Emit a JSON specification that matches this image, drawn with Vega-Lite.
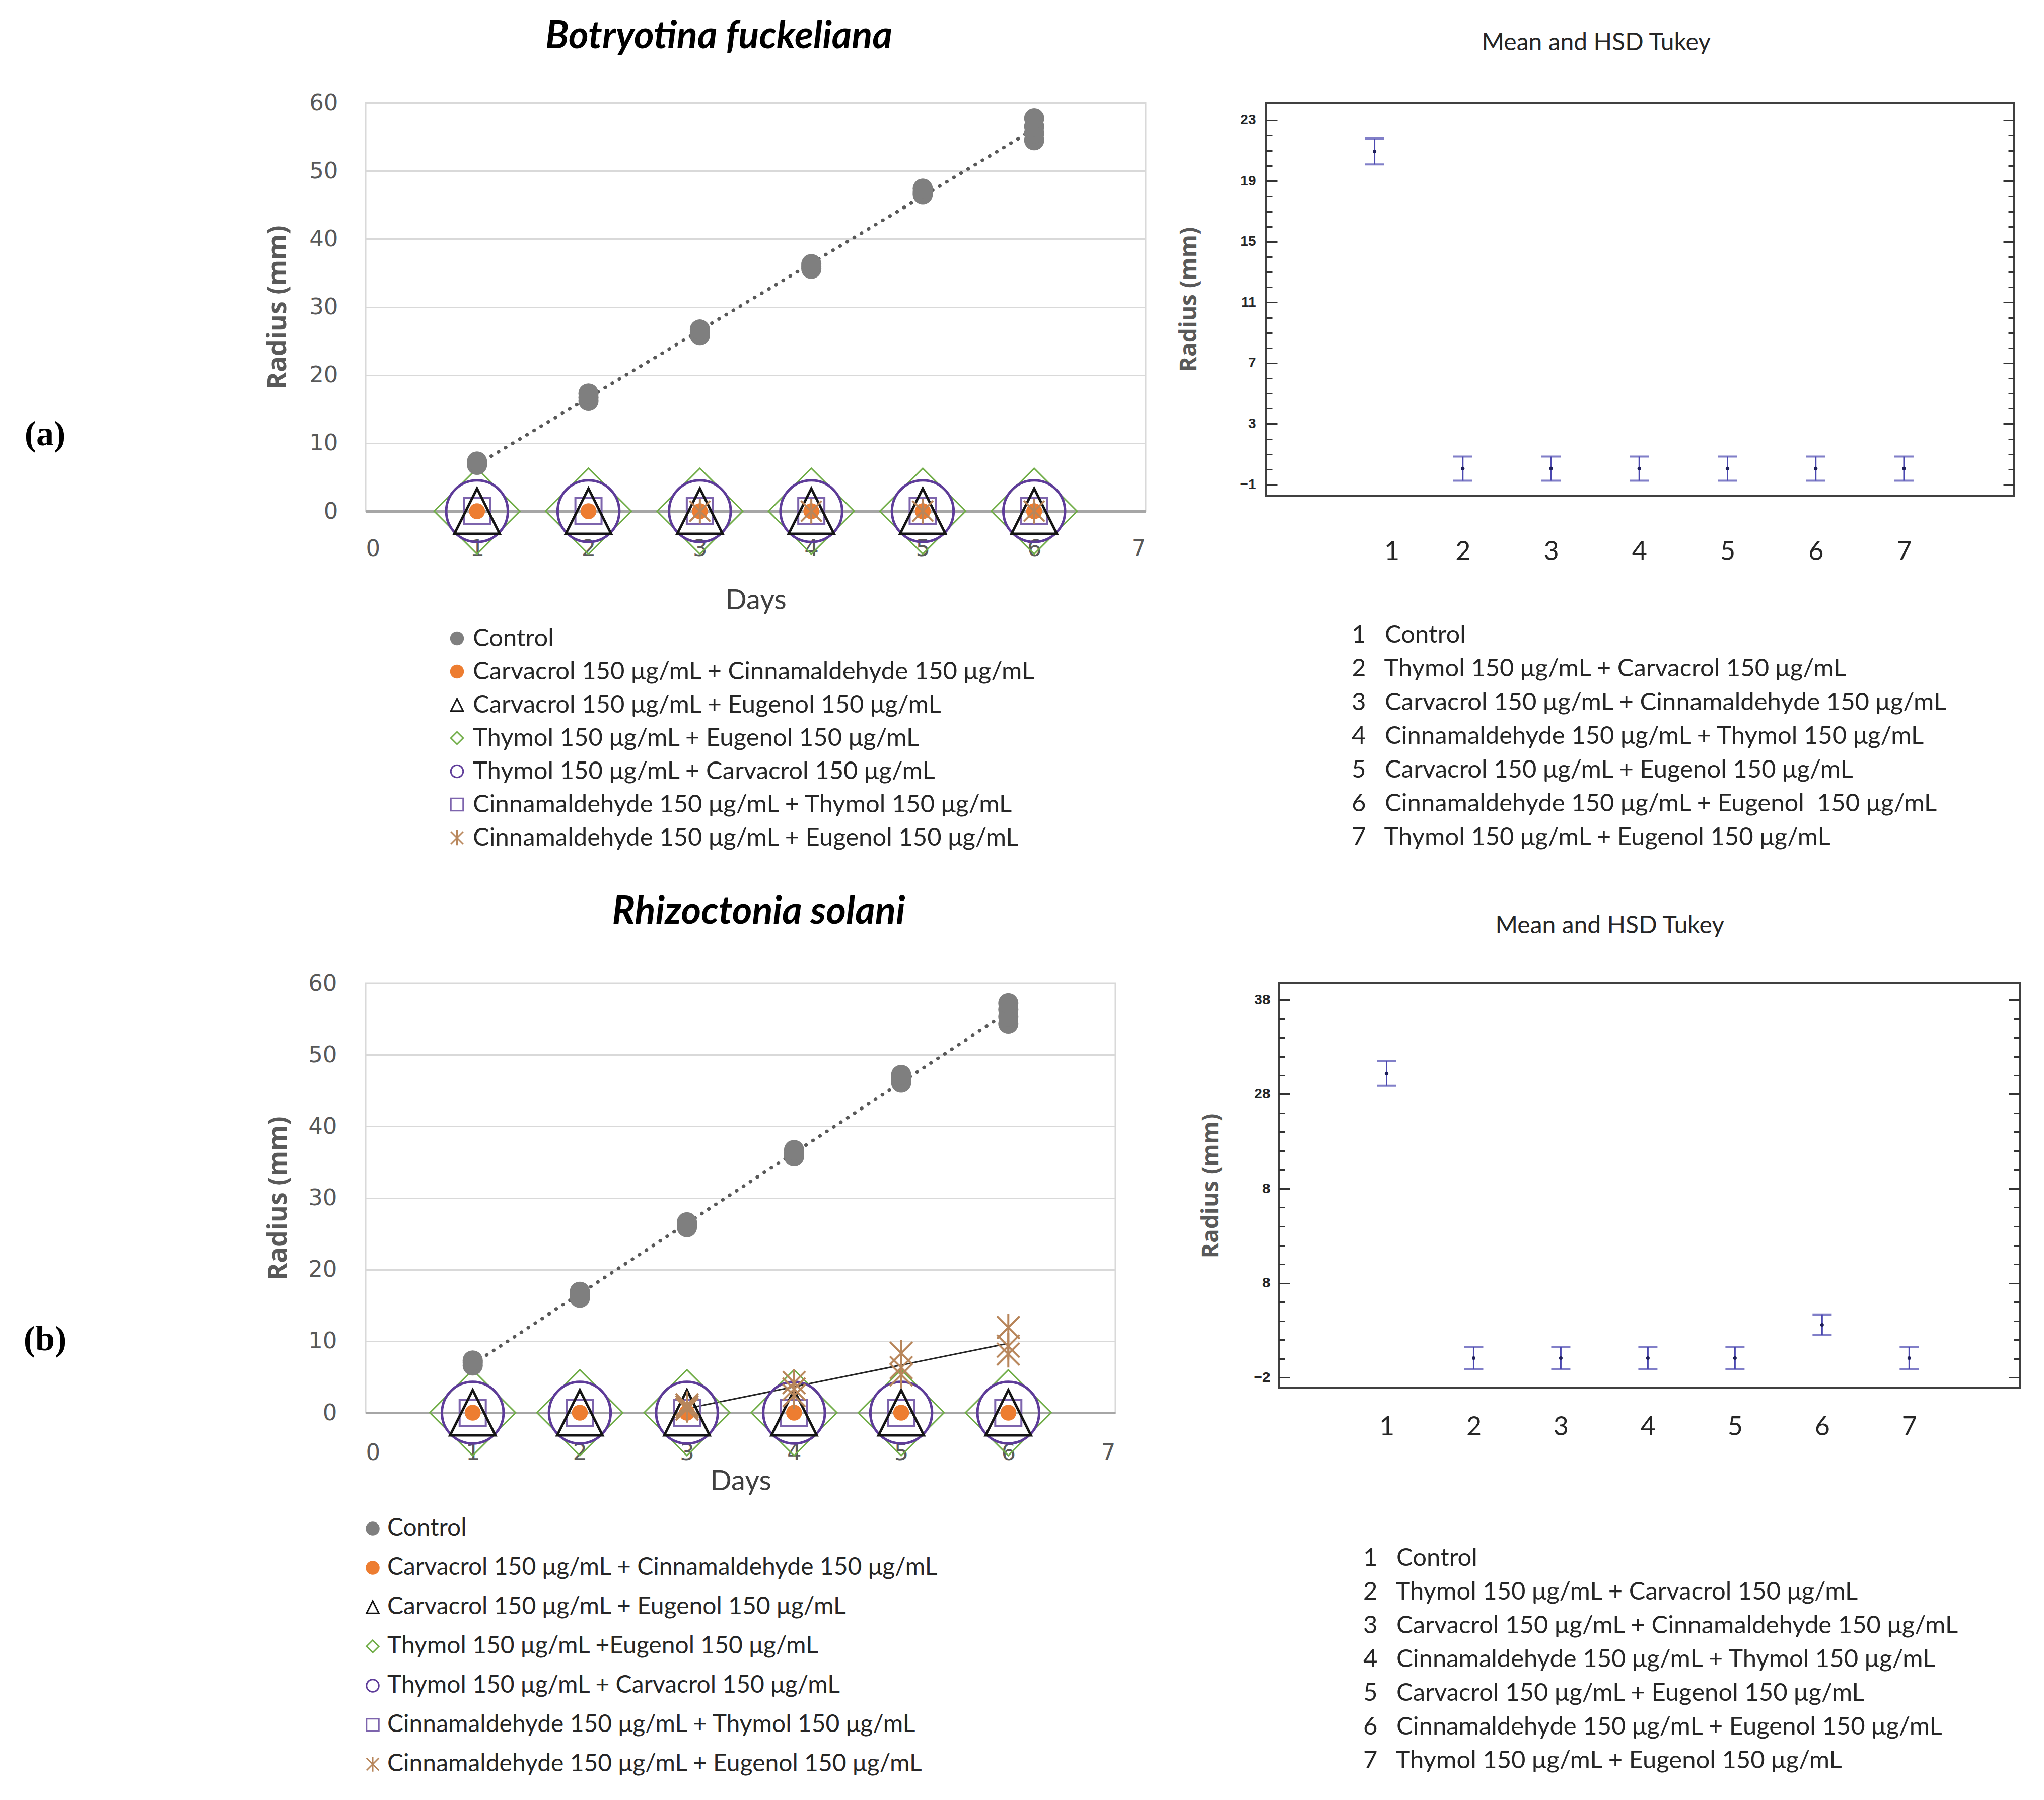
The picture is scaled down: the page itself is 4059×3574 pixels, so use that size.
{
  "$schema": "https://vega.github.io/schema/vega-lite/v6.json",
  "background": "white",
  "padding": {"left": 44, "top": 33, "right": 5, "bottom": 5},
  "config": {"font": "Lato", "view": {"stroke": null}},
  "datasets": {
    "growthA": [
      {"d": 1, "r": 0, "s": "Thymol 150 μg/mL + Eugenol 150 μg/mL"},
      {"d": 2, "r": 0, "s": "Thymol 150 μg/mL + Eugenol 150 μg/mL"},
      {"d": 3, "r": 0, "s": "Thymol 150 μg/mL + Eugenol 150 μg/mL"},
      {"d": 4, "r": 0, "s": "Thymol 150 μg/mL + Eugenol 150 μg/mL"},
      {"d": 5, "r": 0, "s": "Thymol 150 μg/mL + Eugenol 150 μg/mL"},
      {"d": 6, "r": 0, "s": "Thymol 150 μg/mL + Eugenol 150 μg/mL"},
      {"d": 1, "r": 0, "s": "Thymol 150 μg/mL + Carvacrol 150 μg/mL"},
      {"d": 2, "r": 0, "s": "Thymol 150 μg/mL + Carvacrol 150 μg/mL"},
      {"d": 3, "r": 0, "s": "Thymol 150 μg/mL + Carvacrol 150 μg/mL"},
      {"d": 4, "r": 0, "s": "Thymol 150 μg/mL + Carvacrol 150 μg/mL"},
      {"d": 5, "r": 0, "s": "Thymol 150 μg/mL + Carvacrol 150 μg/mL"},
      {"d": 6, "r": 0, "s": "Thymol 150 μg/mL + Carvacrol 150 μg/mL"},
      {"d": 1, "r": 0, "s": "Cinnamaldehyde 150 μg/mL + Thymol 150 μg/mL"},
      {"d": 2, "r": 0, "s": "Cinnamaldehyde 150 μg/mL + Thymol 150 μg/mL"},
      {"d": 3, "r": 0, "s": "Cinnamaldehyde 150 μg/mL + Thymol 150 μg/mL"},
      {"d": 4, "r": 0, "s": "Cinnamaldehyde 150 μg/mL + Thymol 150 μg/mL"},
      {"d": 5, "r": 0, "s": "Cinnamaldehyde 150 μg/mL + Thymol 150 μg/mL"},
      {"d": 6, "r": 0, "s": "Cinnamaldehyde 150 μg/mL + Thymol 150 μg/mL"},
      {"d": 1, "r": 0, "s": "Carvacrol 150 μg/mL + Eugenol 150 μg/mL"},
      {"d": 2, "r": 0, "s": "Carvacrol 150 μg/mL + Eugenol 150 μg/mL"},
      {"d": 3, "r": 0, "s": "Carvacrol 150 μg/mL + Eugenol 150 μg/mL"},
      {"d": 4, "r": 0, "s": "Carvacrol 150 μg/mL + Eugenol 150 μg/mL"},
      {"d": 5, "r": 0, "s": "Carvacrol 150 μg/mL + Eugenol 150 μg/mL"},
      {"d": 6, "r": 0, "s": "Carvacrol 150 μg/mL + Eugenol 150 μg/mL"},
      {"d": 1, "r": 0, "s": "Carvacrol 150 μg/mL + Cinnamaldehyde 150 μg/mL"},
      {"d": 2, "r": 0, "s": "Carvacrol 150 μg/mL + Cinnamaldehyde 150 μg/mL"},
      {"d": 3, "r": 0, "s": "Carvacrol 150 μg/mL + Cinnamaldehyde 150 μg/mL"},
      {"d": 4, "r": 0, "s": "Carvacrol 150 μg/mL + Cinnamaldehyde 150 μg/mL"},
      {"d": 5, "r": 0, "s": "Carvacrol 150 μg/mL + Cinnamaldehyde 150 μg/mL"},
      {"d": 6, "r": 0, "s": "Carvacrol 150 μg/mL + Cinnamaldehyde 150 μg/mL"},
      {"d": 3, "r": 0, "s": "Cinnamaldehyde 150 μg/mL + Eugenol 150 μg/mL"},
      {"d": 4, "r": 0, "s": "Cinnamaldehyde 150 μg/mL + Eugenol 150 μg/mL"},
      {"d": 5, "r": 0, "s": "Cinnamaldehyde 150 μg/mL + Eugenol 150 μg/mL"},
      {"d": 6, "r": 0, "s": "Cinnamaldehyde 150 μg/mL + Eugenol 150 μg/mL"},
      {"d": 1, "r": 6.8, "s": "Control"},
      {"d": 1, "r": 7.0, "s": "Control"},
      {"d": 1, "r": 7.3, "s": "Control"},
      {"d": 2, "r": 16.2, "s": "Control"},
      {"d": 2, "r": 16.7, "s": "Control"},
      {"d": 2, "r": 17.3, "s": "Control"},
      {"d": 3, "r": 25.8, "s": "Control"},
      {"d": 3, "r": 26.2, "s": "Control"},
      {"d": 3, "r": 26.7, "s": "Control"},
      {"d": 4, "r": 35.6, "s": "Control"},
      {"d": 4, "r": 35.9, "s": "Control"},
      {"d": 4, "r": 36.3, "s": "Control"},
      {"d": 5, "r": 46.5, "s": "Control"},
      {"d": 5, "r": 46.9, "s": "Control"},
      {"d": 5, "r": 47.4, "s": "Control"},
      {"d": 6, "r": 54.5, "s": "Control"},
      {"d": 6, "r": 55.5, "s": "Control"},
      {"d": 6, "r": 56.5, "s": "Control"},
      {"d": 6, "r": 57.7, "s": "Control"}
    ],
    "growthB": [
      {"d": 1, "r": 0, "s": "Thymol 150 μg/mL +Eugenol 150 μg/mL"},
      {"d": 2, "r": 0, "s": "Thymol 150 μg/mL +Eugenol 150 μg/mL"},
      {"d": 3, "r": 0, "s": "Thymol 150 μg/mL +Eugenol 150 μg/mL"},
      {"d": 4, "r": 0, "s": "Thymol 150 μg/mL +Eugenol 150 μg/mL"},
      {"d": 5, "r": 0, "s": "Thymol 150 μg/mL +Eugenol 150 μg/mL"},
      {"d": 6, "r": 0, "s": "Thymol 150 μg/mL +Eugenol 150 μg/mL"},
      {"d": 1, "r": 0, "s": "Thymol 150 μg/mL + Carvacrol 150 μg/mL"},
      {"d": 2, "r": 0, "s": "Thymol 150 μg/mL + Carvacrol 150 μg/mL"},
      {"d": 3, "r": 0, "s": "Thymol 150 μg/mL + Carvacrol 150 μg/mL"},
      {"d": 4, "r": 0, "s": "Thymol 150 μg/mL + Carvacrol 150 μg/mL"},
      {"d": 5, "r": 0, "s": "Thymol 150 μg/mL + Carvacrol 150 μg/mL"},
      {"d": 6, "r": 0, "s": "Thymol 150 μg/mL + Carvacrol 150 μg/mL"},
      {"d": 1, "r": 0, "s": "Cinnamaldehyde 150 μg/mL + Thymol 150 μg/mL"},
      {"d": 2, "r": 0, "s": "Cinnamaldehyde 150 μg/mL + Thymol 150 μg/mL"},
      {"d": 3, "r": 0, "s": "Cinnamaldehyde 150 μg/mL + Thymol 150 μg/mL"},
      {"d": 4, "r": 0, "s": "Cinnamaldehyde 150 μg/mL + Thymol 150 μg/mL"},
      {"d": 5, "r": 0, "s": "Cinnamaldehyde 150 μg/mL + Thymol 150 μg/mL"},
      {"d": 6, "r": 0, "s": "Cinnamaldehyde 150 μg/mL + Thymol 150 μg/mL"},
      {"d": 1, "r": 0, "s": "Carvacrol 150 μg/mL + Eugenol 150 μg/mL"},
      {"d": 2, "r": 0, "s": "Carvacrol 150 μg/mL + Eugenol 150 μg/mL"},
      {"d": 3, "r": 0, "s": "Carvacrol 150 μg/mL + Eugenol 150 μg/mL"},
      {"d": 4, "r": 0, "s": "Carvacrol 150 μg/mL + Eugenol 150 μg/mL"},
      {"d": 5, "r": 0, "s": "Carvacrol 150 μg/mL + Eugenol 150 μg/mL"},
      {"d": 6, "r": 0, "s": "Carvacrol 150 μg/mL + Eugenol 150 μg/mL"},
      {"d": 1, "r": 0, "s": "Carvacrol 150 μg/mL + Cinnamaldehyde 150 μg/mL"},
      {"d": 2, "r": 0, "s": "Carvacrol 150 μg/mL + Cinnamaldehyde 150 μg/mL"},
      {"d": 3, "r": 0, "s": "Carvacrol 150 μg/mL + Cinnamaldehyde 150 μg/mL"},
      {"d": 4, "r": 0, "s": "Carvacrol 150 μg/mL + Cinnamaldehyde 150 μg/mL"},
      {"d": 5, "r": 0, "s": "Carvacrol 150 μg/mL + Cinnamaldehyde 150 μg/mL"},
      {"d": 6, "r": 0, "s": "Carvacrol 150 μg/mL + Cinnamaldehyde 150 μg/mL"},
      {"d": 3, "r": 0.5, "s": "Cinnamaldehyde 150 μg/mL + Eugenol 150 μg/mL"},
      {"d": 3, "r": 0.8, "s": "Cinnamaldehyde 150 μg/mL + Eugenol 150 μg/mL"},
      {"d": 3, "r": 1.1, "s": "Cinnamaldehyde 150 μg/mL + Eugenol 150 μg/mL"},
      {"d": 4, "r": 2.4, "s": "Cinnamaldehyde 150 μg/mL + Eugenol 150 μg/mL"},
      {"d": 4, "r": 3.3, "s": "Cinnamaldehyde 150 μg/mL + Eugenol 150 μg/mL"},
      {"d": 4, "r": 4.2, "s": "Cinnamaldehyde 150 μg/mL + Eugenol 150 μg/mL"},
      {"d": 5, "r": 5.3, "s": "Cinnamaldehyde 150 μg/mL + Eugenol 150 μg/mL"},
      {"d": 5, "r": 6.3, "s": "Cinnamaldehyde 150 μg/mL + Eugenol 150 μg/mL"},
      {"d": 5, "r": 8.3, "s": "Cinnamaldehyde 150 μg/mL + Eugenol 150 μg/mL"},
      {"d": 6, "r": 8.2, "s": "Cinnamaldehyde 150 μg/mL + Eugenol 150 μg/mL"},
      {"d": 6, "r": 9.3, "s": "Cinnamaldehyde 150 μg/mL + Eugenol 150 μg/mL"},
      {"d": 6, "r": 11.9, "s": "Cinnamaldehyde 150 μg/mL + Eugenol 150 μg/mL"},
      {"d": 1, "r": 6.6, "s": "Control"},
      {"d": 1, "r": 7.0, "s": "Control"},
      {"d": 1, "r": 7.3, "s": "Control"},
      {"d": 2, "r": 16.0, "s": "Control"},
      {"d": 2, "r": 16.4, "s": "Control"},
      {"d": 2, "r": 16.9, "s": "Control"},
      {"d": 3, "r": 25.9, "s": "Control"},
      {"d": 3, "r": 26.2, "s": "Control"},
      {"d": 3, "r": 26.6, "s": "Control"},
      {"d": 4, "r": 35.8, "s": "Control"},
      {"d": 4, "r": 36.2, "s": "Control"},
      {"d": 4, "r": 36.7, "s": "Control"},
      {"d": 5, "r": 46.1, "s": "Control"},
      {"d": 5, "r": 46.6, "s": "Control"},
      {"d": 5, "r": 47.2, "s": "Control"},
      {"d": 6, "r": 54.3, "s": "Control"},
      {"d": 6, "r": 55.3, "s": "Control"},
      {"d": 6, "r": 56.3, "s": "Control"},
      {"d": 6, "r": 57.2, "s": "Control"}
    ],
    "tukeyA": [
      {"g": 1, "m": 20.95, "lo": 20.1, "hi": 21.8, "lab": "1\u00a0\u00a0\u00a0Control"},
      {"g": 2, "m": 0.05, "lo": -0.75, "hi": 0.84, "lab": "2\u00a0\u00a0\u00a0Thymol 150 μg/mL + Carvacrol 150 μg/mL"},
      {"g": 3, "m": 0.05, "lo": -0.75, "hi": 0.84, "lab": "3\u00a0\u00a0\u00a0Carvacrol 150 μg/mL + Cinnamaldehyde 150 μg/mL"},
      {"g": 4, "m": 0.05, "lo": -0.75, "hi": 0.84, "lab": "4\u00a0\u00a0\u00a0Cinnamaldehyde 150 μg/mL + Thymol 150 μg/mL"},
      {"g": 5, "m": 0.05, "lo": -0.75, "hi": 0.84, "lab": "5\u00a0\u00a0\u00a0Carvacrol 150 μg/mL + Eugenol 150 μg/mL"},
      {"g": 6, "m": 0.05, "lo": -0.75, "hi": 0.84, "lab": "6\u00a0\u00a0\u00a0Cinnamaldehyde 150 μg/mL + Eugenol\u00a0 150 μg/mL"},
      {"g": 7, "m": 0.05, "lo": -0.75, "hi": 0.84, "lab": "7\u00a0\u00a0\u00a0Thymol 150 μg/mL + Eugenol 150 μg/mL"}
    ],
    "tukeyB": [
      {"g": 1, "m": 30.2, "lo": 28.9, "hi": 31.5, "lab": "1\u00a0\u00a0\u00a0Control"},
      {"g": 2, "m": 0.05, "lo": -1.1, "hi": 1.2, "lab": "2\u00a0\u00a0\u00a0Thymol 150 μg/mL + Carvacrol 150 μg/mL"},
      {"g": 3, "m": 0.05, "lo": -1.1, "hi": 1.2, "lab": "3\u00a0\u00a0\u00a0Carvacrol 150 μg/mL + Cinnamaldehyde 150 μg/mL"},
      {"g": 4, "m": 0.05, "lo": -1.1, "hi": 1.2, "lab": "4\u00a0\u00a0\u00a0Cinnamaldehyde 150 μg/mL + Thymol 150 μg/mL"},
      {"g": 5, "m": 0.05, "lo": -1.1, "hi": 1.2, "lab": "5\u00a0\u00a0\u00a0Carvacrol 150 μg/mL + Eugenol 150 μg/mL"},
      {"g": 6, "m": 3.57, "lo": 2.5, "hi": 4.63, "lab": "6\u00a0\u00a0\u00a0Cinnamaldehyde 150 μg/mL + Eugenol 150 μg/mL"},
      {"g": 7, "m": 0.05, "lo": -1.1, "hi": 1.2, "lab": "7\u00a0\u00a0\u00a0Thymol 150 μg/mL + Eugenol 150 μg/mL"}
    ]
  },
  "spacing": 80,
  "resolve": {
    "scale": {"shape": "independent", "fill": "independent", "stroke": "independent", "size": "independent", "strokeWidth": "independent", "color": "independent"},
    "legend": {"shape": "independent", "fill": "independent", "stroke": "independent", "size": "independent", "strokeWidth": "independent", "color": "independent"}
  },
  "vconcat": [
    {
      "spacing": 59,
      "resolve": {
        "scale": {"shape": "independent", "fill": "independent", "stroke": "independent", "size": "independent", "strokeWidth": "independent", "color": "independent"},
        "legend": {"shape": "independent", "fill": "independent", "stroke": "independent", "size": "independent", "strokeWidth": "independent", "color": "independent"}
      },
      "hconcat": [
        {
          "width": 1549,
          "height": 811,
          "data": {"name": "growthA"},
          "title": {"text": "Botryotina fuckeliana", "font": "Lato", "fontSize": 76, "fontWeight": "bold", "fontStyle": "italic", "color": "#000000", "offset": 70, "anchor": "middle", "frame": "group", "dx": -73},
          "view": {"stroke": "#d9d9d9", "strokeWidth": 3},
          "resolve": {"axis": {"y": "independent"}},
          "layer": [
            {
              "transform": [{"filter": {"field": "s", "equal": "Control"}}, {"regression": "r", "on": "d"}],
              "mark": {"type": "line", "color": "#595959", "strokeWidth": 7, "strokeDash": [0.5, 16], "strokeCap": "round"},
              "encoding": {
                "x": {"field": "d", "type": "quantitative"},
                "y": {"field": "r", "type": "quantitative", "axis": {"orient": "left", "title": "(a)", "titleAngle": 0, "titleX": -637, "titleY": 658, "titleAlign": "center", "titleBaseline": "middle", "titleFont": "Liberation Serif", "titleFontSize": 70, "titleFontWeight": "bold", "titleColor": "#000000", "labels": false, "ticks": false, "domain": false, "grid": false}}
              }
            },
            {
              "mark": {"type": "point", "opacity": 1},
              "encoding": {
                "x": {"field": "d", "type": "quantitative", "scale": {"domain": [0, 7], "nice": false, "zero": false},
                  "axis": {"values": [0, 1, 2, 3, 4, 5, 6, 7], "format": "d", "title": "Days", "grid": false, "ticks": false, "domainColor": "#a6a6a6", "domainWidth": 5, "labelFont": "DejaVu Sans", "labelFontSize": 45, "labelColor": "#595959", "labelPadding": 52, "titleFont": "Lato", "titleFontSize": 56, "titleFontWeight": "normal", "titleColor": "#404040", "titlePadding": 53}},
                "y": {"field": "r", "type": "quantitative", "scale": {"domain": [0, 60], "nice": false},
                  "axis": {"orient": "left", "values": [0, 10, 20, 30, 40, 50, 60], "title": "Radius (mm)", "grid": true, "gridColor": "#d9d9d9", "gridWidth": 3, "ticks": false, "domain": false, "labelFont": "DejaVu Sans", "labelFontSize": 45, "labelColor": "#595959", "labelPadding": 55, "titleFont": "Open Sans", "titleFontSize": 52, "titleFontWeight": "bold", "titleColor": "#595959", "titlePadding": 35}},
                "shape": {"field": "s", "type": "nominal",
                  "scale": {"domain": ["Control", "Carvacrol 150 μg/mL + Cinnamaldehyde 150 μg/mL", "Carvacrol 150 μg/mL + Eugenol 150 μg/mL", "Thymol 150 μg/mL + Eugenol 150 μg/mL", "Thymol 150 μg/mL + Carvacrol 150 μg/mL", "Cinnamaldehyde 150 μg/mL + Thymol 150 μg/mL", "Cinnamaldehyde 150 μg/mL + Eugenol 150 μg/mL"],
                    "range": ["circle", "circle", "M0,-1L1,1L-1,1Z", "diamond", "circle", "square", "M-1,-1L1,1M-1,1L1,-1M0,-1.2L0,1.2"]},
                  "legend": {"orient": "none", "legendX": 157, "legendY": 1039, "title": null, "padding": 0, "labelFont": "Lato", "labelFontSize": 49, "labelColor": "#262626", "labelLimit": 3000, "labelOffset": 7, "rowPadding": 16, "symbolSize": 600, "symbolStrokeWidth": 3}},
                "fill": {"field": "s", "type": "nominal",
                  "scale": {"domain": ["Control", "Carvacrol 150 μg/mL + Cinnamaldehyde 150 μg/mL", "Carvacrol 150 μg/mL + Eugenol 150 μg/mL", "Thymol 150 μg/mL + Eugenol 150 μg/mL", "Thymol 150 μg/mL + Carvacrol 150 μg/mL", "Cinnamaldehyde 150 μg/mL + Thymol 150 μg/mL", "Cinnamaldehyde 150 μg/mL + Eugenol 150 μg/mL"],
                    "range": ["#7f7f7f", "#ed7d31", "transparent", "transparent", "transparent", "transparent", "transparent"]}},
                "stroke": {"field": "s", "type": "nominal",
                  "scale": {"domain": ["Control", "Carvacrol 150 μg/mL + Cinnamaldehyde 150 μg/mL", "Carvacrol 150 μg/mL + Eugenol 150 μg/mL", "Thymol 150 μg/mL + Eugenol 150 μg/mL", "Thymol 150 μg/mL + Carvacrol 150 μg/mL", "Cinnamaldehyde 150 μg/mL + Thymol 150 μg/mL", "Cinnamaldehyde 150 μg/mL + Eugenol 150 μg/mL"],
                    "range": ["#7f7f7f", "#ed7d31", "#141414", "#70ad47", "#5e3c99", "#7d64ad", "#b8865b"]}},
                "size": {"field": "s", "type": "nominal", "legend": null,
                  "scale": {"type": "ordinal", "domain": ["Cinnamaldehyde 150 μg/mL + Eugenol 150 μg/mL", "Cinnamaldehyde 150 μg/mL + Thymol 150 μg/mL", "Thymol 150 μg/mL + Carvacrol 150 μg/mL", "Thymol 150 μg/mL + Eugenol 150 μg/mL", "Carvacrol 150 μg/mL + Eugenol 150 μg/mL", "Carvacrol 150 μg/mL + Cinnamaldehyde 150 μg/mL", "Control"],
                    "range": [1700, 2700, 15000, 29000, 8100, 1000, 1600]}},
                "strokeWidth": {"field": "s", "type": "nominal", "legend": null,
                  "scale": {"type": "ordinal", "domain": ["Cinnamaldehyde 150 μg/mL + Eugenol 150 μg/mL", "Cinnamaldehyde 150 μg/mL + Thymol 150 μg/mL", "Thymol 150 μg/mL + Carvacrol 150 μg/mL", "Thymol 150 μg/mL + Eugenol 150 μg/mL", "Carvacrol 150 μg/mL + Eugenol 150 μg/mL", "Carvacrol 150 μg/mL + Cinnamaldehyde 150 μg/mL", "Control"],
                    "range": [4, 4, 5, 3, 5, 0, 0]}}
              }
            }
          ]
        },
        {
          "width": 1486,
          "height": 780,
          "data": {"name": "tukeyA"},
          "title": {"text": "Mean and HSD Tukey", "font": "Lato", "fontSize": 48, "fontWeight": "normal", "color": "#262626", "offset": 94, "anchor": "middle", "frame": "bounds"},
          "view": {"stroke": "#404040", "strokeWidth": 4},
          "resolve": {"axis": {"y": "independent"}},
          "layer": [
            {
              "mark": {"type": "errorbar", "color": "#4b48b0", "ticks": {"size": 38, "thickness": 4}, "rule": {"strokeWidth": 3}},
              "encoding": {
                "x": {"field": "g", "type": "quantitative", "scale": {"domain": [-0.23, 8.25], "nice": false, "zero": false},
                  "axis": {"values": [1, 2, 3, 4, 5, 6, 7], "format": "d", "title": null, "ticks": false, "domain": false, "grid": false, "labelFont": "Lato", "labelFontSize": 52, "labelColor": "#262626", "labelPadding": 86,
                    "labelOffset": {"condition": {"test": "datum.value == 1", "value": 34}, "value": 0}}},
                "y": {"field": "lo", "type": "quantitative", "scale": {"domain": [-1.73, 24.16], "nice": false, "zero": false},
                  "axis": {"orient": "left", "values": [-1, 3, 7, 11, 15, 19, 23], "title": "Radius (mm)", "ticks": false, "domain": false, "grid": false, "labelFont": "Liberation Sans", "labelFontSize": 28, "labelFontWeight": "bold", "labelColor": "#262626", "labelPadding": 20, "titleFont": "Open Sans", "titleFontSize": 46, "titleFontWeight": "bold", "titleColor": "#595959", "titlePadding": 77}},
                "y2": {"field": "hi"}
              }
            },
            {
              "mark": {"type": "point", "filled": true, "size": 50, "color": "#1e1e5a", "opacity": 1},
              "encoding": {
                "x": {"field": "g", "type": "quantitative"},
                "y": {"field": "m", "type": "quantitative",
                  "axis": {"orient": "left", "values": [-1, 3, 7, 11, 15, 19, 23], "labels": false, "title": null, "domain": false, "grid": false, "ticks": true, "tickColor": "#333333", "tickWidth": 3, "tickSize": -22}}
              }
            },
            {
              "mark": {"type": "point", "opacity": 0},
              "encoding": {
                "x": {"field": "g", "type": "quantitative"},
                "y": {"field": "m", "type": "quantitative",
                  "axis": {"orient": "right", "values": [-1, 3, 7, 11, 15, 19, 23], "labels": false, "title": null, "domain": false, "grid": false, "ticks": true, "tickColor": "#333333", "tickWidth": 3, "tickSize": -22}},
                "color": {"field": "lab", "type": "nominal", "scale": {"range": ["#ffffff"]},
                  "legend": {"orient": "none", "legendX": 121, "legendY": 1032, "title": null, "padding": 0, "symbolSize": 0, "symbolOpacity": 0, "symbolStrokeWidth": 0, "labelOffset": 0, "labelFont": "Lato", "labelFontSize": 49, "labelColor": "#262626", "labelLimit": 3000, "rowPadding": 17}}
              }
            },
            {
              "mark": {"type": "point", "opacity": 0},
              "encoding": {
                "x": {"field": "g", "type": "quantitative"},
                "y": {"field": "m", "type": "quantitative",
                  "axis": {"orient": "left", "values": [0, 1, 2, 4, 5, 6, 8, 9, 10, 12, 13, 14, 16, 17, 18, 20, 21, 22], "labels": false, "title": null, "domain": false, "grid": false, "ticks": true, "tickColor": "#333333", "tickWidth": 3, "tickSize": -12}}
              }
            },
            {
              "mark": {"type": "point", "opacity": 0},
              "encoding": {
                "x": {"field": "g", "type": "quantitative"},
                "y": {"field": "m", "type": "quantitative",
                  "axis": {"orient": "right", "values": [0, 1, 2, 4, 5, 6, 8, 9, 10, 12, 13, 14, 16, 17, 18, 20, 21, 22], "labels": false, "title": null, "domain": false, "grid": false, "ticks": true, "tickColor": "#333333", "tickWidth": 3, "tickSize": -12}}
              }
            }
          ]
        }
      ]
    },
    {
      "spacing": 162,
      "resolve": {
        "scale": {"shape": "independent", "fill": "independent", "stroke": "independent", "size": "independent", "strokeWidth": "independent", "color": "independent"},
        "legend": {"shape": "independent", "fill": "independent", "stroke": "independent", "size": "independent", "strokeWidth": "independent", "color": "independent"}
      },
      "hconcat": [
        {
          "width": 1489,
          "height": 853,
          "data": {"name": "growthB"},
          "title": {"text": "Rhizoctonia solani", "font": "Lato", "fontSize": 76, "fontWeight": "bold", "fontStyle": "italic", "color": "#000000", "offset": 80, "anchor": "middle", "frame": "group", "dx": 36},
          "view": {"stroke": "#d9d9d9", "strokeWidth": 3},
          "resolve": {"axis": {"y": "independent"}},
          "layer": [
            {
              "transform": [{"filter": {"field": "s", "equal": "Control"}}, {"regression": "r", "on": "d"}],
              "mark": {"type": "line", "color": "#595959", "strokeWidth": 7, "strokeDash": [0.5, 16], "strokeCap": "round"},
              "encoding": {
                "x": {"field": "d", "type": "quantitative"},
                "y": {"field": "r", "type": "quantitative", "axis": {"orient": "left", "title": "(b)", "titleAngle": 0, "titleX": -637, "titleY": 707, "titleAlign": "center", "titleBaseline": "middle", "titleFont": "Liberation Serif", "titleFontSize": 70, "titleFontWeight": "bold", "titleColor": "#000000", "labels": false, "ticks": false, "domain": false, "grid": false}}
              }
            },
            {
              "transform": [{"filter": {"field": "s", "equal": "Cinnamaldehyde 150 μg/mL + Eugenol 150 μg/mL"}}, {"filter": {"field": "d", "gte": 3}}, {"regression": "r", "on": "d"}],
              "mark": {"type": "line", "color": "#262626", "strokeWidth": 3},
              "encoding": {
                "x": {"field": "d", "type": "quantitative"},
                "y": {"field": "r", "type": "quantitative", "axis": null}
              }
            },
            {
              "mark": {"type": "point", "opacity": 1},
              "encoding": {
                "x": {"field": "d", "type": "quantitative", "scale": {"domain": [0, 7], "nice": false, "zero": false},
                  "axis": {"values": [0, 1, 2, 3, 4, 5, 6, 7], "format": "d", "title": "Days", "grid": false, "ticks": false, "domainColor": "#a6a6a6", "domainWidth": 5, "labelFont": "DejaVu Sans", "labelFontSize": 45, "labelColor": "#595959", "labelPadding": 57, "titleFont": "Lato", "titleFontSize": 56, "titleFontWeight": "normal", "titleColor": "#404040", "titlePadding": 7}},
                "y": {"field": "r", "type": "quantitative", "scale": {"domain": [0, 60], "nice": false},
                  "axis": {"orient": "left", "values": [0, 10, 20, 30, 40, 50, 60], "title": "Radius (mm)", "grid": true, "gridColor": "#d9d9d9", "gridWidth": 3, "ticks": false, "domain": false, "labelFont": "DejaVu Sans", "labelFontSize": 45, "labelColor": "#595959", "labelPadding": 57, "titleFont": "Open Sans", "titleFontSize": 52, "titleFontWeight": "bold", "titleColor": "#595959", "titlePadding": 32}},
                "shape": {"field": "s", "type": "nominal",
                  "scale": {"domain": ["Control", "Carvacrol 150 μg/mL + Cinnamaldehyde 150 μg/mL", "Carvacrol 150 μg/mL + Eugenol 150 μg/mL", "Thymol 150 μg/mL +Eugenol 150 μg/mL", "Thymol 150 μg/mL + Carvacrol 150 μg/mL", "Cinnamaldehyde 150 μg/mL + Thymol 150 μg/mL", "Cinnamaldehyde 150 μg/mL + Eugenol 150 μg/mL"],
                    "range": ["circle", "circle", "M0,-1L1,1L-1,1Z", "diamond", "circle", "square", "M-1,-1L1,1M-1,1L1,-1M0,-1.2L0,1.2"]},
                  "legend": {"orient": "none", "legendX": -10, "legendY": 1059, "title": null, "padding": 0, "labelFont": "Lato", "labelFontSize": 48, "labelColor": "#262626", "labelLimit": 3000, "labelOffset": 5, "rowPadding": 30, "symbolSize": 600, "symbolStrokeWidth": 3}},
                "fill": {"field": "s", "type": "nominal",
                  "scale": {"domain": ["Control", "Carvacrol 150 μg/mL + Cinnamaldehyde 150 μg/mL", "Carvacrol 150 μg/mL + Eugenol 150 μg/mL", "Thymol 150 μg/mL +Eugenol 150 μg/mL", "Thymol 150 μg/mL + Carvacrol 150 μg/mL", "Cinnamaldehyde 150 μg/mL + Thymol 150 μg/mL", "Cinnamaldehyde 150 μg/mL + Eugenol 150 μg/mL"],
                    "range": ["#7f7f7f", "#ed7d31", "transparent", "transparent", "transparent", "transparent", "transparent"]}},
                "stroke": {"field": "s", "type": "nominal",
                  "scale": {"domain": ["Control", "Carvacrol 150 μg/mL + Cinnamaldehyde 150 μg/mL", "Carvacrol 150 μg/mL + Eugenol 150 μg/mL", "Thymol 150 μg/mL +Eugenol 150 μg/mL", "Thymol 150 μg/mL + Carvacrol 150 μg/mL", "Cinnamaldehyde 150 μg/mL + Thymol 150 μg/mL", "Cinnamaldehyde 150 μg/mL + Eugenol 150 μg/mL"],
                    "range": ["#7f7f7f", "#ed7d31", "#141414", "#70ad47", "#5e3c99", "#7d64ad", "#b8865b"]}},
                "size": {"field": "s", "type": "nominal", "legend": null,
                  "scale": {"type": "ordinal", "domain": ["Cinnamaldehyde 150 μg/mL + Eugenol 150 μg/mL", "Cinnamaldehyde 150 μg/mL + Thymol 150 μg/mL", "Thymol 150 μg/mL + Carvacrol 150 μg/mL", "Thymol 150 μg/mL +Eugenol 150 μg/mL", "Carvacrol 150 μg/mL + Eugenol 150 μg/mL", "Carvacrol 150 μg/mL + Cinnamaldehyde 150 μg/mL", "Control"],
                    "range": [2000, 2700, 15000, 29000, 8100, 1000, 1600]}},
                "strokeWidth": {"field": "s", "type": "nominal", "legend": null,
                  "scale": {"type": "ordinal", "domain": ["Cinnamaldehyde 150 μg/mL + Eugenol 150 μg/mL", "Cinnamaldehyde 150 μg/mL + Thymol 150 μg/mL", "Thymol 150 μg/mL + Carvacrol 150 μg/mL", "Thymol 150 μg/mL +Eugenol 150 μg/mL", "Carvacrol 150 μg/mL + Eugenol 150 μg/mL", "Carvacrol 150 μg/mL + Cinnamaldehyde 150 μg/mL", "Control"],
                    "range": [4, 4, 5, 3, 5, 0, 0]}}
              }
            }
          ]
        },
        {
          "width": 1472,
          "height": 804,
          "data": {"name": "tukeyB"},
          "title": {"text": "Mean and HSD Tukey", "font": "Lato", "fontSize": 48, "fontWeight": "normal", "color": "#262626", "offset": 89, "anchor": "middle", "frame": "bounds"},
          "view": {"stroke": "#404040", "strokeWidth": 4},
          "resolve": {"axis": {"y": "independent"}},
          "layer": [
            {
              "mark": {"type": "errorbar", "color": "#4b48b0", "ticks": {"size": 38, "thickness": 4}, "rule": {"strokeWidth": 3}},
              "encoding": {
                "x": {"field": "g", "type": "quantitative", "scale": {"domain": [-0.24, 8.27], "nice": false, "zero": false},
                  "axis": {"values": [1, 2, 3, 4, 5, 6, 7], "format": "d", "title": null, "ticks": false, "domain": false, "grid": false, "labelFont": "Lato", "labelFontSize": 52, "labelColor": "#262626", "labelPadding": 52}},
                "y": {"field": "lo", "type": "quantitative", "scale": {"domain": [-3.12, 39.76], "nice": false, "zero": false},
                  "axis": {"orient": "left", "values": [-2, 8, 18, 28, 38], "labelExpr": "datum.value == 18 ? '8' : datum.label", "title": "Radius (mm)", "ticks": false, "domain": false, "grid": false, "labelFont": "Liberation Sans", "labelFontSize": 28, "labelFontWeight": "bold", "labelColor": "#262626", "labelPadding": 17, "titleFont": "Open Sans", "titleFontSize": 46, "titleFontWeight": "bold", "titleColor": "#595959", "titlePadding": 62}},
                "y2": {"field": "hi"}
              }
            },
            {
              "mark": {"type": "point", "filled": true, "size": 50, "color": "#1e1e5a", "opacity": 1},
              "encoding": {
                "x": {"field": "g", "type": "quantitative"},
                "y": {"field": "m", "type": "quantitative",
                  "axis": {"orient": "left", "values": [-2, 8, 18, 28, 38], "labels": false, "title": null, "domain": false, "grid": false, "ticks": true, "tickColor": "#333333", "tickWidth": 3, "tickSize": -22}}
              }
            },
            {
              "mark": {"type": "point", "opacity": 0},
              "encoding": {
                "x": {"field": "g", "type": "quantitative"},
                "y": {"field": "m", "type": "quantitative",
                  "axis": {"orient": "right", "values": [-2, 8, 18, 28, 38], "labels": false, "title": null, "domain": false, "grid": false, "ticks": true, "tickColor": "#333333", "tickWidth": 3, "tickSize": -22}},
                "color": {"field": "lab", "type": "nominal", "scale": {"range": ["#ffffff"]},
                  "legend": {"orient": "none", "legendX": 119, "legendY": 1117, "title": null, "padding": 0, "symbolSize": 0, "symbolOpacity": 0, "symbolStrokeWidth": 0, "labelOffset": 0, "labelFont": "Lato", "labelFontSize": 49, "labelColor": "#262626", "labelLimit": 3000, "rowPadding": 17}}
              }
            },
            {
              "mark": {"type": "point", "opacity": 0},
              "encoding": {
                "x": {"field": "g", "type": "quantitative"},
                "y": {"field": "m", "type": "quantitative",
                  "axis": {"orient": "left", "values": [0, 2, 4, 6, 10, 12, 14, 16, 20, 22, 24, 26, 30, 32, 34, 36], "labels": false, "title": null, "domain": false, "grid": false, "ticks": true, "tickColor": "#333333", "tickWidth": 3, "tickSize": -12}}
              }
            },
            {
              "mark": {"type": "point", "opacity": 0},
              "encoding": {
                "x": {"field": "g", "type": "quantitative"},
                "y": {"field": "m", "type": "quantitative",
                  "axis": {"orient": "right", "values": [0, 2, 4, 6, 10, 12, 14, 16, 20, 22, 24, 26, 30, 32, 34, 36], "labels": false, "title": null, "domain": false, "grid": false, "ticks": true, "tickColor": "#333333", "tickWidth": 3, "tickSize": -12}}
              }
            }
          ]
        }
      ]
    }
  ]
}
